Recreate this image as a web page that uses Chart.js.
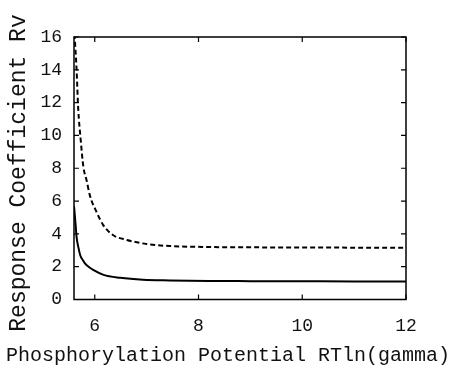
<!DOCTYPE html>
<html>
<head>
<meta charset="utf-8">
<script src="https://cdn.jsdelivr.net/npm/chart.js@4"></script>
<style>
  html, body { margin: 0; padding: 0; background: #fff; }
  #wrap { width: 453px; height: 368px; }
</style>
</head>
<body>
<div id="wrap"><canvas id="rvChart" width="453" height="368"></canvas></div>
<script>
// response coefficient curves
const solidX = [5.6, 5.63, 5.65, 5.69, 5.72, 5.77, 5.81, 5.9, 5.97, 6.17, 6.49, 6.93, 7.45, 8.2, 9, 10, 11, 12];
const solidY = [5.7, 4.6, 3.8, 3.1, 2.7, 2.4, 2.2, 1.95, 1.8, 1.5, 1.32, 1.2, 1.16, 1.13, 1.12, 1.11, 1.1, 1.1];
const dashedX = [5.61, 5.65, 5.68, 5.73, 5.78, 5.84, 5.91, 6.04, 6.16, 6.35, 6.62, 7.0, 7.45, 8.2, 9, 10, 11, 12];
const dashedY = [16.2, 14.0, 11.7, 9.7, 8.1, 7.3, 6.3, 5.3, 4.55, 3.93, 3.63, 3.38, 3.26, 3.2, 3.18, 3.17, 3.16, 3.15];
const xTicks = [6, 8, 10, 12];
const yTicks = [0, 2, 4, 6, 8, 10, 12, 14, 16];
const xTitle = 'Phosphorylation Potential RTln(gamma)';
const yTitle = 'Response Coefficient Rv';

const toPoints = (xs, ys) => xs.map((x, i) => ({ x: x, y: ys[i] }));

// box + inward ticks on all four sides, plus the axis titles
// (Chart.js squeezes a title to the axis width, so they are drawn here)
const frameTicks = {
  id: 'frameTicks',
  afterDraw(chart) {
    const { ctx, chartArea: a, scales } = chart;
    const len = 5;
    ctx.save();
    ctx.strokeStyle = '#000';
    ctx.lineWidth = 1.5;
    ctx.strokeRect(a.left, a.top, a.right - a.left, a.bottom - a.top);
    ctx.lineWidth = 1.2;
    ctx.beginPath();
    xTicks.forEach(v => {
      const px = scales.x.getPixelForValue(v);
      ctx.moveTo(px, a.bottom); ctx.lineTo(px, a.bottom - len);
      ctx.moveTo(px, a.top); ctx.lineTo(px, a.top + len);
    });
    yTicks.forEach(v => {
      const py = scales.y.getPixelForValue(v);
      ctx.moveTo(a.left, py); ctx.lineTo(a.left + len, py);
      ctx.moveTo(a.right, py); ctx.lineTo(a.right - len, py);
    });
    ctx.stroke();

    ctx.fillStyle = '#111';
    ctx.textAlign = 'center';
    ctx.textBaseline = 'middle';
    ctx.font = '20px "Liberation Mono"';
    ctx.fillText(xTitle, 228, 356);
    ctx.translate(19, 173);
    ctx.rotate(-Math.PI / 2);
    ctx.font = '23px "Liberation Mono"';
    ctx.fillText(yTitle, 0, 0);
    ctx.restore();
  }
};

new Chart(document.getElementById('rvChart'), {
  type: 'scatter',
  data: {
    datasets: [{
      label: 'solid',
      data: toPoints(solidX, solidY),
      showLine: true,
      borderColor: '#000',
      borderWidth: 2,
      pointRadius: 0,
      cubicInterpolationMode: 'monotone'
    }, {
      label: 'dashed',
      data: toPoints(dashedX, dashedY),
      showLine: true,
      borderColor: '#000',
      borderWidth: 2,
      borderDash: [5, 3],
      pointRadius: 0,
      cubicInterpolationMode: 'monotone'
    }]
  },
  options: {
    responsive: false,
    animation: false,
    layout: { padding: { left: 0, right: 47, top: 37, bottom: 0 } },
    plugins: { legend: { display: false }, tooltip: { enabled: false } },
    scales: {
      x: {
        type: 'linear',
        min: 5.6,
        max: 12,
        afterBuildTicks: s => { s.ticks = xTicks.map(v => ({ value: v })); },
        afterFit: s => { s.height = 68.5; },
        grid: { display: false, drawTicks: false },
        border: { display: false },
        ticks: { color: '#111', padding: 16, font: { family: 'Liberation Mono', size: 18 } }
      },
      y: {
        min: 0,
        max: 16,
        afterBuildTicks: s => { s.ticks = yTicks.map(v => ({ value: v })); },
        afterFit: s => { s.width = 74; },
        grid: { display: false, drawTicks: false },
        border: { display: false },
        ticks: { color: '#111', padding: 12, font: { family: 'Liberation Mono', size: 18 } }
      }
    }
  },
  plugins: [frameTicks]
});
</script>
</body>
</html>
